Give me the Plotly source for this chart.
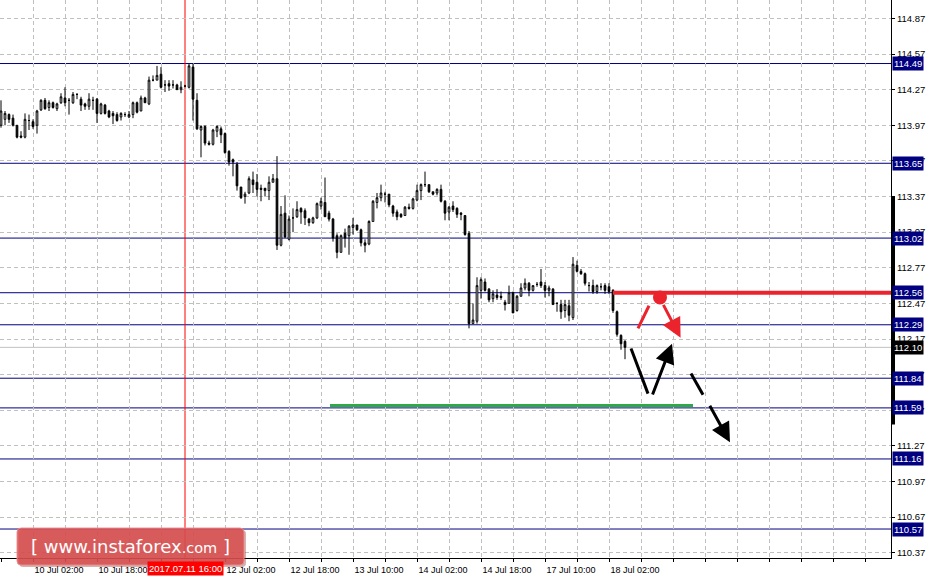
import plotly.graph_objects as go
import pandas as pd

# ---------------- data (USDJPY H1) ----------------
opens = [113.97, 114.02, 114.06, 114.03, 113.97, 113.88, 113.87, 114.01, 114.00, 113.97,
         114.10, 114.18, 114.12, 114.16, 114.11, 114.16, 114.20, 114.18, 114.16, 114.23,
         114.19, 114.15, 114.13, 114.18, 114.19, 114.07, 114.14, 114.09, 114.07, 114.06,
         114.04, 114.06, 114.04, 114.06, 114.16, 114.09, 114.20, 114.15, 114.35, 114.35,
         114.40, 114.31, 114.32, 114.31, 114.31, 114.27, 114.30, 114.29, 114.46, 114.18,
         113.93, 113.96, 113.82, 113.81, 113.92, 113.94, 113.90, 113.75, 113.68, 113.64,
         113.45, 113.37, 113.40, 113.51, 113.49, 113.44, 113.44, 113.42, 113.49, 113.52,
         112.96, 113.23, 113.01, 113.19, 113.20, 113.27, 113.25, 113.18, 113.15, 113.19,
         113.29, 113.32, 113.23, 113.18, 113.04, 112.90, 113.06, 113.04, 113.11, 113.13,
         113.09, 112.98, 112.97, 113.16, 113.32, 113.36, 113.39, 113.39, 113.29, 113.24,
         113.22, 113.21, 113.28, 113.27, 113.34, 113.42, 113.47, 113.47, 113.41, 113.40,
         113.43, 113.33, 113.24, 113.29, 113.27, 113.23, 113.21, 113.06, 112.30, 112.32,
         112.58, 112.65, 112.59, 112.51, 112.54, 112.53, 112.48, 112.47, 112.56, 112.41,
         112.53, 112.60, 112.64, 112.58, 112.63, 112.65, 112.62, 112.58, 112.59, 112.47,
         112.46, 112.41, 112.45, 112.35, 112.79, 112.74, 112.72, 112.62, 112.62, 112.57,
         112.61, 112.62, 112.61, 112.58, 112.40, 112.20, 112.15]
highs = [114.18, 114.09, 114.07, 114.06, 113.97, 113.92, 114.07, 114.06, 114.02, 114.10,
         114.19, 114.20, 114.18, 114.17, 114.16, 114.24, 114.29, 114.20, 114.25, 114.24,
         114.21, 114.16, 114.24, 114.21, 114.20, 114.16, 114.15, 114.10, 114.09, 114.08,
         114.08, 114.08, 114.09, 114.17, 114.17, 114.22, 114.21, 114.38, 114.39, 114.47,
         114.46, 114.35, 114.35, 114.35, 114.32, 114.34, 114.31, 114.49, 114.49, 114.24,
         113.97, 113.97, 113.84, 113.94, 113.97, 113.96, 113.91, 113.76, 113.69, 113.66,
         113.45, 113.41, 113.54, 113.58, 113.56, 113.47, 113.44, 113.54, 113.56, 113.71,
         113.29, 113.38, 113.21, 113.27, 113.33, 113.28, 113.27, 113.19, 113.20, 113.32,
         113.36, 113.53, 113.25, 113.19, 113.06, 113.05, 113.10, 113.13, 113.19, 113.13,
         113.10, 113.01, 113.17, 113.34, 113.40, 113.47, 113.41, 113.39, 113.30, 113.26,
         113.23, 113.29, 113.31, 113.36, 113.47, 113.48, 113.58, 113.47, 113.41, 113.44,
         113.47, 113.34, 113.29, 113.33, 113.28, 113.24, 113.21, 113.08, 112.47, 112.69,
         112.69, 112.68, 112.60, 112.58, 112.59, 112.57, 112.50, 112.62, 112.57, 112.54,
         112.64, 112.68, 112.65, 112.62, 112.65, 112.76, 112.65, 112.62, 112.60, 112.48,
         112.50, 112.50, 112.50, 112.86, 112.83, 112.76, 112.73, 112.65, 112.67, 112.63,
         112.64, 112.64, 112.64, 112.59, 112.41, 112.21, 112.16]
lows = [113.95, 113.97, 113.99, 113.96, 113.86, 113.86, 113.86, 113.93, 113.94, 113.90,
        114.09, 114.10, 114.09, 114.11, 114.09, 114.15, 114.13, 114.06, 114.15, 114.19,
        114.09, 114.10, 114.10, 114.10, 113.99, 114.06, 114.06, 114.03, 113.98, 114.00,
        114.01, 114.04, 114.03, 114.03, 114.07, 114.09, 114.16, 114.14, 114.34, 114.35,
        114.28, 114.25, 114.26, 114.28, 114.27, 114.24, 114.29, 114.28, 114.01, 113.93,
        113.70, 113.80, 113.80, 113.80, 113.87, 113.82, 113.73, 113.63, 113.54, 113.42,
        113.35, 113.31, 113.39, 113.40, 113.37, 113.33, 113.37, 113.34, 113.49, 112.92,
        112.95, 113.02, 113.00, 113.07, 113.19, 113.14, 113.13, 113.12, 113.14, 113.18,
        113.26, 113.20, 113.16, 112.99, 112.85, 112.90, 112.94, 112.88, 113.05, 113.08,
        112.95, 112.90, 112.96, 113.16, 113.27, 113.33, 113.32, 113.28, 113.20, 113.17,
        113.19, 113.21, 113.26, 113.26, 113.33, 113.34, 113.45, 113.40, 113.38, 113.38,
        113.32, 113.17, 113.17, 113.24, 113.19, 113.17, 113.04, 112.26, 112.30, 112.30,
        112.51, 112.57, 112.48, 112.48, 112.50, 112.50, 112.41, 112.47, 112.39, 112.40,
        112.53, 112.58, 112.53, 112.57, 112.61, 112.60, 112.52, 112.53, 112.46, 112.40,
        112.34, 112.35, 112.32, 112.33, 112.73, 112.71, 112.62, 112.57, 112.55, 112.55,
        112.58, 112.55, 112.55, 112.39, 112.19, 112.08, 112.00]
closes = [114.09, 114.07, 114.02, 113.97, 113.87, 113.87, 114.02, 114.01, 113.96, 114.09,
          114.18, 114.11, 114.16, 114.12, 114.15, 114.21, 114.16, 114.18, 114.23, 114.23,
          114.14, 114.13, 114.19, 114.18, 114.07, 114.15, 114.07, 114.04, 114.05, 114.01,
          114.07, 114.06, 114.06, 114.16, 114.08, 114.20, 114.16, 114.35, 114.35, 114.39,
          114.29, 114.31, 114.30, 114.31, 114.27, 114.29, 114.30, 114.47, 114.19, 113.94,
          113.96, 113.82, 113.81, 113.93, 113.96, 113.89, 113.74, 113.66, 113.66, 113.46,
          113.36, 113.39, 113.52, 113.47, 113.43, 113.43, 113.42, 113.49, 113.52, 112.96,
          113.22, 113.03, 113.18, 113.19, 113.26, 113.24, 113.19, 113.15, 113.19, 113.31,
          113.33, 113.20, 113.18, 113.02, 112.90, 113.04, 113.02, 113.12, 113.13, 113.09,
          112.98, 112.96, 113.16, 113.33, 113.36, 113.40, 113.39, 113.30, 113.23, 113.20,
          113.20, 113.28, 113.27, 113.35, 113.42, 113.47, 113.47, 113.41, 113.39, 113.43,
          113.33, 113.23, 113.28, 113.26, 113.22, 113.22, 113.05, 112.30, 112.33, 112.62,
          112.67, 112.58, 112.50, 112.55, 112.52, 112.52, 112.46, 112.56, 112.39, 112.53,
          112.60, 112.64, 112.58, 112.62, 112.63, 112.62, 112.58, 112.60, 112.46, 112.47,
          112.40, 112.46, 112.37, 112.80, 112.74, 112.72, 112.64, 112.62, 112.57, 112.62,
          112.61, 112.58, 112.57, 112.41, 112.21, 112.13, 112.10]

first_bar_time = "2017-07-07 18:00"
label_bars = [8, 24, 40, 56, 72, 88, 104, 120, 136, 152]
y_ticks = [110.37, 110.67, 110.97, 111.27, 111.57, 111.87, 112.17, 112.47,
           112.77, 113.07, 113.37, 113.67, 113.97, 114.27, 114.57, 114.87]
levels = [114.49, 113.65, 113.02, 112.56, 112.29, 111.84, 111.59, 111.16, 110.57]
bid_price = 112.10
crosshair_bar = 46
crosshair_label = "2017.07.11 16:00"

# analysis drawings (bar index, price)
resistance_line = {"x0": 153, "y": 112.56}
support_line = {"x0": 82.25, "x1": 173, "y": 111.61}
red_dot = (164.75, 112.52)
red_segment = [(159.25, 112.26), (162.0, 112.45)]
red_arrow = [(165.4, 112.47), (169.9, 112.18)]
black_segment = [(157.5, 112.09), (161.75, 111.71)]
black_arrow_up = [(162.75, 111.69), (167.75, 112.13)]
black_dash = [(172.5, 111.88), (175.5, 111.70)]
black_arrow_down = [(177.0, 111.62), (182.25, 111.30)]
axis_bar = (111.45, 113.37)

# ---------------- time axis ----------------
hrs = pd.date_range(first_bar_time, periods=24 * 14, freq="h")
hrs = hrs[hrs.dayofweek < 5][:len(opens)]
times = [t.strftime("%Y.%m.%d %H:%M") for t in hrs]
x_max = 222.5
grid_vals = list(range(0, 223, 8))
grid_text = [hrs[i].strftime("%d %b %H:%M") if i in label_bars else "" for i in grid_vals]

FONT = "Liberation Sans, Arial, sans-serif"
NAVY = "#000080"
RED = "rgb(235,35,45)"

fig = go.Figure()
fig.add_trace(go.Candlestick(
    x=times, open=opens, high=highs, low=lows, close=closes,
    increasing=dict(fillcolor="white", line=dict(color="black", width=1)),
    decreasing=dict(fillcolor="black", line=dict(color="black", width=1)),
    whiskerwidth=0, hoverinfo="skip", showlegend=False,
))

shapes = []
for lv in levels:
    shapes.append(dict(type="line", xref="paper", x0=0, x1=1, yref="y", y0=lv, y1=lv,
                       line=dict(color=NAVY, width=1), layer="below"))
shapes.append(dict(type="line", xref="paper", x0=0, x1=1, yref="y", y0=bid_price, y1=bid_price,
                   line=dict(color="#c0c0c0", width=1), layer="below"))
shapes.append(dict(type="line", xref="x", x0=crosshair_bar, x1=crosshair_bar, yref="paper", y0=0, y1=1,
                   line=dict(color="red", width=1), layer="below"))
shapes.append(dict(type="rect", xref="paper", x0=1.0, x1=1.0045, yref="y", y0=axis_bar[0], y1=axis_bar[1],
                   fillcolor="black", line=dict(width=0)))
shapes.append(dict(type="line", xref="x", x0=resistance_line["x0"], x1=x_max, yref="y",
                   y0=resistance_line["y"], y1=resistance_line["y"], line=dict(color=RED, width=4)))
shapes.append(dict(type="line", xref="x", x0=support_line["x0"], x1=support_line["x1"], yref="y",
                   y0=support_line["y"], y1=support_line["y"], line=dict(color="rgb(45,170,70)", width=3)))
shapes.append(dict(type="circle", xref="x", yref="y", xsizemode="pixel", ysizemode="pixel",
                   xanchor=red_dot[0], yanchor=red_dot[1], x0=-7, x1=7, y0=-7, y1=7,
                   fillcolor=RED, line=dict(width=0)))
for seg, col in [(red_segment, RED), (black_segment, "black"), (black_dash, "black")]:
    shapes.append(dict(type="line", xref="x", yref="y", x0=seg[0][0], y0=seg[0][1],
                       x1=seg[1][0], y1=seg[1][1], line=dict(color=col, width=3)))

# logo box (paper coords; plot area 891 x 558 px)
PW, PH = 891.0, 558.0
lx0, lx1 = 17 / PW, 244 / PW
ly1, ly0 = (PH - 528) / PH, (PH - 565) / PH
rx, ry = 4 / PW, 4 / PH
def rounded(x0, x1, y0, y1):
    return (f"M {x0+rx},{y1} L {x1-rx},{y1} Q {x1},{y1} {x1},{y1-ry} L {x1},{y0+ry} "
            f"Q {x1},{y0} {x1-rx},{y0} L {x0+rx},{y0} Q {x0},{y0} {x0},{y0+ry} "
            f"L {x0},{y1-ry} Q {x0},{y1} {x0+rx},{y1} Z")
shapes.append(dict(type="path", xref="paper", yref="paper",
                   path=rounded(lx0 + 2 / PW, lx1 + 2 / PW, ly0 - 2 / PH, ly1 - 2 / PH),
                   fillcolor="rgba(140,30,30,0.35)", line=dict(width=0)))
shapes.append(dict(type="path", xref="paper", yref="paper", path=rounded(lx0, lx1, ly0, ly1),
                   fillcolor="rgba(216,78,78,0.88)", line=dict(color="rgba(235,140,140,0.9)", width=1)))

annotations = []
for lv in levels:
    annotations.append(dict(xref="paper", x=1, xanchor="left", xshift=1, yref="y", y=lv,
                            text=f"{lv:.2f}", showarrow=False, bgcolor=NAVY, borderpad=1,
                            font=dict(color="white", size=9.5, family=FONT)))
annotations.append(dict(xref="paper", x=1, xanchor="left", xshift=1, yref="y", y=bid_price,
                        text=f"{bid_price:.2f}", showarrow=False, bgcolor="black", borderpad=1,
                        font=dict(color="white", size=9.5, family=FONT)))
annotations.append(dict(xref="x", x=crosshair_bar, yref="paper", y=0, yanchor="top", yshift=-3,
                        text=crosshair_label, showarrow=False, bgcolor="red", borderpad=1,
                        font=dict(color="white", size=9.5, family=FONT)))
for (tail, tip, col) in [(red_arrow[0], red_arrow[1], RED),
                         (black_arrow_up[0], black_arrow_up[1], "black"),
                         (black_arrow_down[0], black_arrow_down[1], "black")]:
    annotations.append(dict(xref="x", yref="y", x=tip[0], y=tip[1], axref="x", ayref="y",
                            ax=tail[0], ay=tail[1], text="", showarrow=True, arrowhead=2,
                            arrowsize=1.3, arrowwidth=3, arrowcolor=col))
annotations.append(dict(xref="paper", yref="paper", x=(lx0 + lx1) / 2, y=(ly0 + ly1) / 2,
                        xanchor="center", yanchor="middle", showarrow=False,
                        text="[ www.instaforex<span style='font-size:14.5px'>.com</span> ]",
                        font=dict(color="white", size=18, family="DejaVu Sans, Verdana, sans-serif")))

fig.update_layout(
    width=933, height=578,
    margin=dict(l=0, r=42, t=0, b=20, autoexpand=False),
    paper_bgcolor="white", plot_bgcolor="white",
    showlegend=False, boxgap=0.4,
    shapes=shapes, annotations=annotations,
    font=dict(family=FONT, size=9, color="black"),
    xaxis=dict(type="category", range=[-0.25, x_max], rangeslider=dict(visible=False),
               tickmode="array", tickvals=grid_vals, ticktext=grid_text, automargin=False,
               showgrid=True, gridcolor="#c0c0c0", griddash="4px,3px", gridwidth=1,
               ticks="outside", ticklen=3, tickcolor="black", ticklabelshift=26,
               showline=True, linecolor="black", linewidth=1, zeroline=False,
               tickfont=dict(size=9, family=FONT, color="black"), fixedrange=True),
    yaxis=dict(side="right", range=[110.326, 115.025], tickmode="array", tickvals=y_ticks,
               ticktext=[f"{v:.2f}" for v in y_ticks], automargin=False,
               showgrid=True, gridcolor="#c0c0c0", griddash="4px,3px", gridwidth=1,
               ticks="outside", ticklen=3, tickcolor="black",
               showline=True, linecolor="black", linewidth=1, zeroline=False,
               tickfont=dict(size=9.5, family=FONT, color="black"), fixedrange=True),
)

fig.write_html("out.html", config={"displayModeBar": False},
               post_script="document.body.style.margin='0';document.body.style.overflow='hidden';")
